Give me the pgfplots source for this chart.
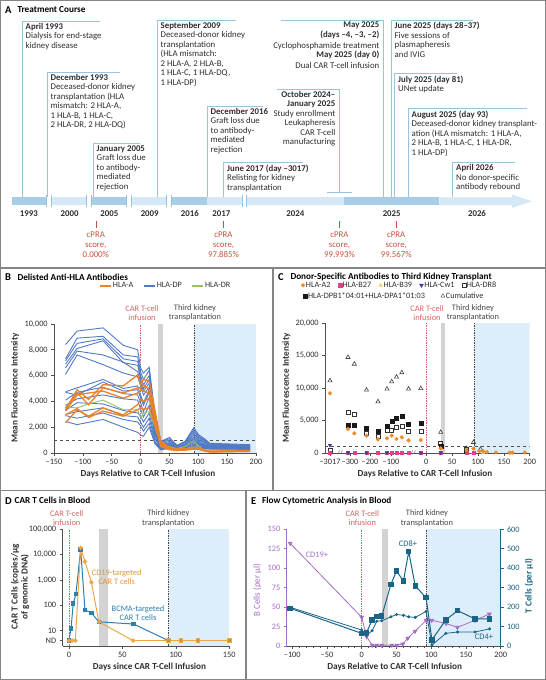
\documentclass[border=0pt]{standalone}
\usepackage{fontspec}
\setmainfont{Carlito}
\usepackage{pgfplots}
\usepackage{pgfplotstable}
\pgfplotsset{compat=1.18}

\definecolor{tlDark}{HTML}{A8CDE7}
\definecolor{tlLight}{HTML}{D5E8F5}
\definecolor{tlLine}{HTML}{98C4E2}
\definecolor{cpra}{HTML}{C8503C}
\definecolor{frame}{HTML}{858585}
\definecolor{axc}{HTML}{505050}
\definecolor{txc}{HTML}{2E2E2E}
\definecolor{shade}{HTML}{DDEEFA}
\definecolor{band}{HTML}{D3D3D3}
\definecolor{redann}{HTML}{D46464}
\definecolor{grayann}{HTML}{474747}
\definecolor{lineB}{HTML}{5079C6}
\definecolor{lineO}{HTML}{E9822B}
\definecolor{lineG}{HTML}{95C35F}
\definecolor{bcma}{HTML}{2A80B3}
\definecolor{cdn}{HTML}{F0A646}
\definecolor{purp}{HTML}{A56DC6}
\definecolor{tealE}{HTML}{1A6585}
\definecolor{mA}{HTML}{E98E2C}
\definecolor{mBa}{HTML}{E0408C}
\definecolor{mBb}{HTML}{F1D27C}
\definecolor{mCw}{HTML}{4B3A8C}

\newcommand{\fA}{\fontsize{8.8}{9.5}\selectfont}
\newcommand{\fT}{\fontsize{8.3}{8.8}\selectfont}
\newcommand{\fL}{\fontsize{8.2}{8.8}\selectfont}
\newcommand{\fN}{\fontsize{8.4}{9.1}\selectfont}
\newcommand{\fX}{\fontsize{9.2}{10}\selectfont\bfseries}

\pgfplotsset{
  panel/.style={scale only axis, anchor=south west,
    axis x line*=bottom, axis y line*=left,
    tick align=outside, major tick length=2.8pt, minor tick length=1.6pt,
    axis line style={draw=axc, line width=0.6pt},
    tick style={draw=axc, line width=0.6pt},
    tick label style={font=\fT, text=txc},
    scaled ticks=false,
    /pgf/number format/assume math mode=true},
}

% Panel B data
\pgfplotstableread{
day B1 B2 B3 B4 B5 B6 B7 B8 B9 B10 B11 B12 B13 B14
-130 8400 7300 7150 6900 6600 6100 4750 4700 4100 3700 3300 3000 2900 2450
-110 9450 8900 8500 8100 7900 7600 5050 4500 4700 4200 3900 3200 2700 2200
-65 9700 9050 8850 8700 7600 6850 5700 5500 5100 4500 3800 3500 3100 2600
-30 8350 7600 7300 7000 7050 6200 5000 4800 4600 4200 3300 2900 2600 2000
-5 8000 7450 7100 6800 6300 5900 5200 4900 4500 4100 3100 2800 2400 1600
0 6600 6300 6000 5700 5500 5200 4500 4300 3900 3400 2900 2400 2100 1400
5 6200 5700 5300 5000 4800 4500 3900 3700 3200 2800 2400 2000 1700 1300
15 6650 6400 6000 5700 5400 5100 4900 4700 4300 3700 3100 2700 2300 2000
25 3000 2800 2500 2300 2100 1900 1700 1600 1500 1300 1100 900 800 700
35 900 850 800 700 650 600 550 500 450 420 380 330 300 250
50 1200 1100 1000 900 800 750 700 650 600 550 500 450 400 350
63 600 550 500 450 400 380 350 330 300 280 250 220 200 180
77 900 850 800 700 650 600 550 500 450 420 380 330 300 250
92 1950 1800 1650 1500 1350 1200 1100 1000 900 800 700 600 500 400
101 1400 1300 1200 1100 1000 900 800 750 700 650 600 500 450 400
111 1100 1000 950 850 800 700 650 600 550 500 450 400 380 350
120 750 700 650 600 550 500 480 450 420 400 380 350 330 300
190 650 600 580 550 500 480 450 420 400 380 350 330 300 280
}\tabB
\pgfplotstableread{
day O1 O2 O3 O4 O5 G
-130 3350 3500 3250 2350 2950 3550
-110 4900 4650 4500 3350 3450 3500
-90 4150 3750 4650 2850 2750 3800
-65 5300 5050 4800 3500 3250 4100
-30 5200 4650 4250 2950 2850 3350
-5 6050 5050 4650 3750 3350 3350
0 5300 5050 4900 4150 3500 2700
5 5700 5300 4800 4000 3400 3100
15 5550 4900 4650 4250 3500 3200
25 3300 3000 2800 2500 2200 2000
35 900 800 700 600 500 700
50 450 400 350 300 250 500
63 300 280 250 220 200 350
77 350 300 280 250 220 500
92 450 400 380 330 300 950
101 400 350 320 300 280 500
111 250 220 200 180 160 200
120 150 120 100 90 80 100
190 200 180 160 150 130 100
}\tabO

\begin{document}
\begin{tikzpicture}[font=\fA,
  evt/.style={anchor=north west, align=left, inner sep=0pt, font=\fA, text=txc},
  evtR/.style={anchor=north east, align=right, inner sep=0pt, font=\fA, text=txc},
  bl/.style={tlLine, line width=0.8pt}]
\path[use as bounding box] (0pt,0pt) rectangle (546pt,680pt);

%================ BACKGROUND / PANEL A ================
\begin{axis}[at={(0pt,0pt)}, anchor=south west, scale only axis, width=546pt, height=680pt,
  xmin=0, xmax=546, ymin=-680, ymax=0, hide axis, clip=false]
% frames
\draw[frame, line width=1.4pt] (0.7,-0.7) rectangle (545.3,-679.3);
\draw[frame, line width=1.2pt] (0,-268) -- (546,-268);
\draw[frame, line width=1.2pt] (273,-268) -- (273,-490.7);
\draw[frame, line width=1.2pt] (0,-490.7) -- (546,-490.7);
\draw[frame, line width=1.2pt] (246,-490.7) -- (246,-680);

% timeline bar
\addplot[fill=tlDark, draw=none] coordinates {(11.5,-197.5) (46.3,-197.5) (46.3,-205) (11.5,-205)};
\addplot[fill=tlLight, draw=none] coordinates {(51.5,-197.5) (86.4,-197.5) (86.4,-205) (51.5,-205)};
\addplot[fill=tlDark, draw=none] coordinates {(91.2,-197.5) (126.4,-197.5) (126.4,-205) (91.2,-205)};
\addplot[fill=tlLight, draw=none] coordinates {(131.3,-197.5) (166.4,-197.5) (166.4,-205) (131.3,-205)};
\addplot[fill=tlDark, draw=none] coordinates {(171.3,-197.5) (207.2,-197.5) (207.2,-205) (171.3,-205)};
\addplot[fill=tlLight, draw=none] coordinates {(207.2,-197.5) (242,-197.5) (242,-205) (207.2,-205)};
\addplot[fill=tlLight, draw=none] coordinates {(246.5,-197.5) (344,-197.5) (344,-205) (246.5,-205)};
\addplot[fill=tlDark, draw=none] coordinates {(344,-197.5) (439.4,-197.5) (439.4,-205) (344,-205)};
\addplot[fill=tlLight, draw=none] coordinates {(439.4,-197.5) (512,-197.5) (512,-194.5) (532,-201.25) (512,-208) (512,-205) (439.4,-205)};
% break marks
\draw[bl] (46.3,-195.5) -- (46.3,-207);
\draw[bl] (51.5,-195.5) -- (51.5,-207);
\draw[bl] (86.4,-195.5) -- (86.4,-207);
\draw[bl] (91.2,-195.5) -- (91.2,-207);
\draw[bl] (126.4,-195.5) -- (126.4,-207);
\draw[bl] (131.3,-195.5) -- (131.3,-207);
\draw[bl] (166.4,-195.5) -- (166.4,-207);
\draw[bl] (171.3,-195.5) -- (171.3,-207);
\draw[bl] (242,-195.5) -- (242,-207);
\draw[bl] (246.5,-195.5) -- (246.5,-207);

% year labels
\begin{scope}[every node/.style={font=\fA\bfseries, text=txc, inner sep=0pt}]
\node at (28.9,-213.7) {1993};
\node at (69.6,-213.7) {2000};
\node at (109.3,-213.7) {2005};
\node at (149.7,-213.7) {2009};
\node at (189.8,-213.7) {2016};
\node at (221.4,-213.7) {2017};
\node at (295.3,-213.7) {2024};
\node at (391.7,-213.7) {2025};
\node at (477,-213.7) {2026};
\end{scope}

% event box lines
\draw[bl] (22,-197.5) -- (22,-21) -- (100,-21);
\draw[bl] (47,-197.5) -- (47,-72) -- (120,-72);
\draw[bl] (93,-197.5) -- (93,-143.3) -- (140,-143.3);
\draw[bl] (157,-197.5) -- (157,-20) -- (236,-20);
\draw[bl] (207,-197.5) -- (207,-106) -- (263,-106);
\draw[bl] (223.5,-197.5) -- (223.5,-162.5) -- (303,-162.5);
\draw[bl] (339,-192) -- (339,-89) -- (277,-89);
\draw[bl] (327,-192) -- (352,-192);
\draw[bl] (383,-197.5) -- (383,-20) -- (281,-20);
\draw[bl] (391,-197.5) -- (391,-20) -- (473,-20);
\draw[bl] (394.5,-197.5) -- (394.5,-73.5) -- (457,-73.5);
\draw[bl] (408,-197.5) -- (408,-108.3) -- (527,-108.3);
\draw[bl] (452.6,-197.5) -- (452.6,-162.2) -- (515,-162.2);

% event texts
\node[evt] at (25.5,-23) {\textbf{April 1993}\\Dialysis for end-stage\\kidney disease};
\node[evt] at (50.5,-74) {\textbf{December 1993}\\Deceased-donor kidney\\transplantation (HLA\\mismatch: 2 HLA-A,\\1 HLA-B, 1 HLA-C,\\2 HLA-DR, 2 HLA-DQ)};
\node[evt] at (96.5,-145.3) {\textbf{January 2005}\\Graft loss due\\to antibody-\\mediated\\rejection};
\node[evt] at (160.5,-22) {\textbf{September 2009}\\Deceased-donor kidney\\transplantation\\(HLA mismatch:\\2 HLA-A, 2 HLA-B,\\1 HLA-C, 1 HLA-DQ,\\1 HLA-DP)};
\node[evt] at (210.5,-108) {\textbf{December 2016}\\Graft loss due\\to antibody-\\mediated\\rejection};
\node[evt] at (227,-164.5) {\textbf{June 2017 (day –3017)}\\Relisting for kidney\\transplantation};
\node[evtR] at (335.5,-91) {\textbf{October 2024–}\\\textbf{January 2025}\\Study enrollment\\Leukapheresis\\CAR T-cell\\manufacturing};
\node[evtR] at (379.5,-22) {\textbf{May 2025}\\\textbf{(days –4, –3, –2)}\\[1.5pt]Cyclophosphamide treatment\\\textbf{May 2025 (day 0)}\\[1.5pt]Dual CAR T-cell infusion};
\node[evt] at (394.5,-22) {\textbf{June 2025 (days 28–37)}\\Five sessions of\\plasmapheresis\\and IVIG};
\node[evt] at (398,-75.5) {\textbf{July 2025 (day 81)}\\UNet update};
\node[evt] at (411.5,-110.3) {\textbf{August 2025 (day 93)}\\Deceased-donor kidney transplant-\\ation (HLA mismatch: 1 HLA-A,\\2 HLA-B, 1 HLA-C, 1 HLA-DR,\\1 HLA-DP)};
\node[evt] at (456,-164.2) {\textbf{April 2026}\\No donor-specific\\antibody rebound};

% cPRA
\begin{scope}[every node/.style={font=\fontsize{8.8}{10}\selectfont, text=cpra, align=center, inner sep=0pt}]
\draw[cpra, line width=0.6pt] (95.8,-221) -- (95.8,-228);
\node at (95.8,-244.6) {cPRA\\score,\\0.000\%};
\draw[cpra, line width=0.6pt] (223.5,-221) -- (223.5,-228);
\node at (223.5,-244.6) {cPRA\\score,\\97.885\%};
\draw[cpra, line width=0.6pt] (339.5,-221) -- (339.5,-228);
\node at (339.5,-244.6) {cPRA\\score,\\99.993\%};
\draw[cpra, line width=0.6pt] (396.2,-221) -- (396.2,-228);
\node at (396.2,-244.6) {cPRA\\score,\\99.567\%};
\end{scope}

% panel titles
\begin{scope}[every node/.style={anchor=west, inner sep=0pt, text=black}]
\node at (5,-10) {\fontsize{10.5}{10}\selectfont\bfseries A};
\node at (17.3,-10) {\fontsize{9.2}{10}\selectfont\bfseries Treatment Course};
\node at (5,-277) {\fontsize{10.5}{10}\selectfont\bfseries B};
\node at (17.3,-277) {\fontsize{9.2}{10}\selectfont\bfseries Delisted Anti-HLA Antibodies};
\node at (278,-277) {\fontsize{10.5}{10}\selectfont\bfseries C};
\node at (290.3,-277) {\fontsize{9.2}{10}\selectfont\bfseries Donor-Specific Antibodies to Third Kidney Transplant};
\node at (5,-500.7) {\fontsize{10.5}{10}\selectfont\bfseries D};
\node at (14.5,-500.7) {\fontsize{9.2}{10}\selectfont\bfseries CAR T Cells in Blood};
\node at (251,-500.7) {\fontsize{10.5}{10}\selectfont\bfseries E};
\node at (262,-500.7) {\fontsize{9.2}{10}\selectfont\bfseries Flow Cytometric Analysis in Blood};
\end{scope}

% annotations above plots
\begin{scope}[every node/.style={align=center, inner sep=0pt, font=\fN}]
\node[text=redann] at (142,-312.8) {CAR T-cell\\infusion};
\node[text=grayann] at (195,-312.8) {Third kidney\\transplantation};
\node[text=redann] at (427,-312.8) {CAR T-cell\\infusion};
\node[text=grayann] at (473,-312.8) {Third kidney\\transplantation};
\node[text=redann] at (66.7,-518.3) {CAR T-cell\\infusion};
\node[text=grayann] at (168.3,-518.3) {Third kidney\\transplantation};
\node[text=redann] at (362.3,-518.3) {CAR T-cell\\infusion};
\node[text=grayann] at (427,-518.3) {Third kidney\\transplantation};
\end{scope}

% axis labels
\begin{scope}[every node/.style={inner sep=0pt, font=\fX, text=txc}]
\node[rotate=90] at (15,-388) {Mean Fluorescence Intensity};
\node at (148,-474.3) {Days Relative to CAR T-Cell Infusion};
\node[rotate=90] at (286.3,-388) {Mean Fluorescence Intensity};
\node at (425,-474.3) {Days Relative to CAR T-Cell Infusion};
\node[rotate=90, align=center, font=\fontsize{9.2}{10}\selectfont\bfseries] at (20,-586.7) {CAR T Cells (copies/μg\\of genomic DNA)};
\node at (149.5,-667.3) {Days since CAR T-Cell Infusion};
\node[rotate=90, text=purp, font=\fontsize{9}{10}\selectfont] at (257.3,-590) {B Cells (per μl)};
\node[rotate=90, text=tealE] at (529,-586) {T Cells (per μl)};
\node at (394.7,-666.7) {Days Relative to CAR T-Cell Infusion};
\end{scope}
\end{axis}

%================ PANEL B ================
\begin{axis}[panel, at={(54pt,227pt)}, width=202pt, height=129pt,
  xmin=-150, xmax=200, ymin=0, ymax=10000,
  xtick={-150,-100,-50,0,50,100,150,200},
  xticklabels={–150,–100,–50,0,50,100,150,200},
  ytick={0,2000,4000,6000,8000,10000},
  yticklabels={0,{2,000},{4,000},{6,000},{8,000},{10,000}},
  legend columns=3,
  legend style={at={(0.552,1.295)}, anchor=center, draw=none, fill=none, font=\fL,
    nodes={inner sep=1pt, text=txc},
    /tikz/every even column/.append style={column sep=9pt}},
  legend image code/.code={\draw[#1] (0pt,0pt) -- (11pt,0pt);}]
\addlegendimage{lineO, line width=1.3pt}\addlegendentry{HLA-A}
\addlegendimage{lineB, line width=1.3pt}\addlegendentry{HLA-DP}
\addlegendimage{lineG, line width=1.3pt}\addlegendentry{HLA-DR}
\addplot[fill=shade, draw=none, forget plot] coordinates {(93,0) (200,0) (200,10000) (93,10000)};
\addplot[fill=band, draw=none, forget plot] coordinates {(30,0) (38,0) (38,10000) (30,10000)};
\addplot[redann, densely dotted, line width=0.7pt, forget plot] coordinates {(0,0) (0,10000)};
\addplot[grayann, densely dotted, line width=0.7pt, forget plot] coordinates {(93,0) (93,10000)};
\addplot[axc, dashed, line width=0.5pt, forget plot] coordinates {(-150,1000) (200,1000)};
\pgfplotsinvokeforeach{B1,B2,B3,B4,B5,B6,B7,B8,B9,B10,B11,B12,B13,B14}{
  \addplot[lineB, line width=0.9pt, forget plot] table[x=day, y=#1] {\tabB};
}
\addplot[lineG, line width=0.9pt, forget plot] table[x=day, y=G] {\tabO};
\pgfplotsinvokeforeach{O1,O2,O3,O4,O5}{
  \addplot[lineO, line width=1.3pt, forget plot] table[x=day, y=#1] {\tabO};
}
\end{axis}

%================ PANEL C ================
\begin{axis}[panel, at={(325pt,227pt)}, width=204.7pt, height=129.7pt,
  xmin=325, xmax=529.7, ymin=0, ymax=20000,
  xtick={330,350,370,391,426.3,452.2,478,503.9,529.7},
  xticklabels={–3017,–300,–200,–100,0,50,100,150,200},
  ytick={0,5000,10000,15000,20000},
  yticklabels={0,{5,000},{10,000},{15,000},{20,000}},
  legend columns=5,
  legend style={at={(-0.132,1.293)}, anchor=west, draw=none, fill=none, font=\fL,
    nodes={inner sep=1pt, text=txc},
    /tikz/every even column/.append style={column sep=6.5pt}},
  legend image code/.code={\draw[mark repeat=2,mark phase=2,#1] plot coordinates {(0pt,0pt) (2.6pt,0pt) (5.2pt,0pt)};}]
\addlegendimage{only marks, mark=*, mark size=1.9pt, draw=mA, fill=mA}\addlegendentry{HLA-A2}
\addlegendimage{only marks, mark=square*, mark size=1.8pt, draw=mBa, fill=mBa}\addlegendentry{HLA-B27}
\addlegendimage{only marks, mark=triangle*, mark size=2.2pt, draw=mBb, fill=mBb}\addlegendentry{HLA-B39}
\addlegendimage{only marks, mark=triangle*, mark size=2.2pt, draw=mCw, fill=mCw, mark options={rotate=180}}\addlegendentry{HLA-Cw1}
\addlegendimage{only marks, mark=square, mark size=1.9pt, draw=black!80, mark options={fill=white}}\addlegendentry{HLA-DR8}
\addplot[fill=shade, draw=none, forget plot] coordinates {(474.4,0) (529.7,0) (529.7,20000) (474.4,20000)};
\addplot[fill=band, draw=none, forget plot] coordinates {(440.8,0) (445.4,0) (445.4,20000) (440.8,20000)};
\addplot[redann, densely dotted, line width=0.7pt, forget plot] coordinates {(426.3,0) (426.3,20000)};
\addplot[grayann, densely dotted, line width=0.7pt, forget plot] coordinates {(474.4,0) (474.4,20000)};
\addplot[axc, dashed, line width=0.5pt, forget plot] coordinates {(325,1000) (529.7,1000)};
% Cumulative
\addplot[only marks, mark=triangle, mark size=2.4pt, draw=black!75, mark options={fill=white, line width=0.6pt}, forget plot] coordinates {
(330,11160) (348,14760) (354.3,13720) (366.5,9720) (378,7920) (387,9880) (391.7,11000) (396.5,11730) (401.8,12400) (408.5,9880) (420.8,9960) (440.7,3200) (466.5,720) (473.5,1650) (480.5,600)};
% HLA-DR8
\addplot[only marks, mark=square, mark size=2pt, draw=black!80, mark options={fill=white, line width=0.6pt}, forget plot] coordinates {
(330,350) (348,6280) (354.3,6020) (366.5,3090) (378,2570) (387,3450) (391.7,3500) (396.5,3960) (401.8,4110) (408.5,3340) (420.8,3340) (440.7,1540) (466.5,500)};
% HLA-DPB1
\addplot[only marks, mark=square*, mark size=2pt, draw=black!90, fill=black!90, forget plot] coordinates {
(348,4330) (354.3,4270) (366.5,3750) (378,3290) (387,4060) (391.7,4830) (396.5,5440) (401.8,5700) (408.5,4420) (420.8,4520) (440.7,1070) (466.5,350)};
% HLA-B39
\addplot[only marks, mark=triangle*, mark size=2pt, draw=mBb, fill=mBb, forget plot] coordinates {
(330,20) (348,30) (366.5,30) (387,40) (401.8,30) (440.7,20) (473.5,30) (483.3,20)};
% HLA-B27
\addplot[only marks, mark=square*, mark size=1.6pt, draw=mBa, fill=mBa, forget plot] coordinates {
(330,50) (348,100) (354.3,80) (366.5,80) (378,60) (387,80) (391.7,70) (396.5,90) (401.8,70) (408.5,80) (420.8,60) (440.7,50) (466.5,30) (473.5,40)};
% HLA-Cw1
\addplot[only marks, mark=triangle*, mark size=2pt, draw=mCw, fill=mCw, mark options={rotate=180}, forget plot] coordinates {
(330,1200) (348,40) (366.5,30) (387,30) (420.8,30) (440.7,20)};
% HLA-A2
\addplot[only marks, mark=*, mark size=1.9pt, draw=mA, fill=mA, forget plot] coordinates {
(330,9200) (348,3700) (354.3,3030) (366.5,2670) (378,2100) (387,2260) (391.7,2670) (396.5,2160) (401.8,2420) (408.5,1950) (420.8,2000) (440.7,720) (466.5,460) (473.5,700) (479.3,300) (483.3,250) (487,150) (496,80) (509.7,50) (512.3,50) (524.7,80)};
% axis break marks
\node[fill=white, inner sep=0.3pt, font=\fontsize{7}{7}\selectfont, text=axc] at (axis cs:340,0) {//};
\node[fill=white, inner sep=0.3pt, font=\fontsize{7}{7}\selectfont, text=axc] at (axis cs:413,0) {//};
\end{axis}

% Panel C legend, second row
\begin{axis}[at={(325pt,227pt)}, anchor=south west, scale only axis, width=204.7pt, height=129.7pt,
  xmin=0, xmax=1, ymin=0, ymax=1, hide axis,
  legend columns=2,
  legend style={at={(-0.122,1.2105)}, anchor=west, draw=none, fill=none, font=\fL,
    nodes={inner sep=1pt, text=txc},
    /tikz/every even column/.append style={column sep=15pt}},
  legend image code/.code={\draw[mark repeat=2,mark phase=2,#1] plot coordinates {(0pt,0pt) (2.6pt,0pt) (5.2pt,0pt)};}]
\addplot[draw=none, forget plot] coordinates {(0.5,0.5)};
\addlegendimage{only marks, mark=square*, mark size=1.9pt, draw=black!90, fill=black!90}\addlegendentry{HLA-DPB1*04:01+HLA-DPA1*01:03}
\addlegendimage{only marks, mark=triangle, mark size=2.3pt, draw=black!75, mark options={fill=white}}\addlegendentry{Cumulative}
\end{axis}

%================ PANEL D ================
\begin{axis}[panel, ymode=log, at={(62.5pt,34pt)}, width=166.8pt, height=116.7pt,
  xmin=-6, xmax=150, ymin=2.44, ymax=100000,
  xtick={0,50,100,150},
  ytick={4,10,100,1000,10000,100000},
  yticklabels={ND,10,100,{1,000},{10,000},{100,000}},
  yminorticks=false]
\addplot[fill=shade, draw=none] coordinates {(93,2.44) (150,2.44) (150,100000) (93,100000)};
\addplot[fill=band, draw=none] coordinates {(28,2.44) (37,2.44) (37,100000) (28,100000)};
\addplot[redann, densely dotted, line width=0.7pt] coordinates {(0,2.44) (0,100000)};
\addplot[grayann, densely dotted, line width=0.7pt] coordinates {(93,2.44) (93,100000)};
% BCMA
\addplot[bcma, line width=1pt, mark=square*, mark size=1.7pt, mark options={fill=bcma}] coordinates {
(0,4) (2,12) (4,115) (6.5,270) (11,16000) (15,65) (21,50) (28,22) (60.5,18) (93,4)};
% CD19
\addplot[cdn, line width=1pt, mark=*, mark size=1.7pt, mark options={fill=cdn}] coordinates {
(0,4) (3,4) (6,4) (11,18500) (15,5300) (21,800) (28,22) (60,4)};
\addplot[cdn, line width=1pt, mark=square*, mark size=1.7pt, mark options={fill=cdn!85!black}, mark indices={2,3,4,5}] coordinates {
(60,4) (93,4) (105,4) (121,4) (150,4)};
\node[text=cdn!90!black, align=center, font=\fN] at (axis cs:44.6,1320) {CD19-targeted\\CAR T cells};
\node[text=bcma, align=center, font=\fN] at (axis cs:64.6,49) {BCMA-targeted\\CAR T cells};
\end{axis}

%================ PANEL E ================
% x axis and backgrounds
\begin{axis}[panel, at={(286.7pt,34pt)}, width=214pt, height=116.7pt,
  xmin=-108, xmax=200, ymin=0, ymax=150, axis y line=none,
  xtick={-100,-50,0,50,100,150,200},
  xticklabels={–100,–50,0,50,100,150,200},
  minor xtick={-90,-80,-70,-60,-40,-30,-20,-10,10,20,30,40,60,70,80,90,110,120,130,140,160,170,180,190}]
\addplot[fill=shade, draw=none] coordinates {(93,0) (200,0) (200,150) (93,150)};
\addplot[fill=band, draw=none] coordinates {(29,0) (38,0) (38,150) (29,150)};
\addplot[redann, densely dotted, line width=0.7pt] coordinates {(0,0) (0,150)};
\addplot[grayann, densely dotted, line width=0.7pt] coordinates {(93,0) (93,150)};
\end{axis}
% left axis: B cells
\begin{axis}[panel, at={(286.7pt,34pt)}, width=214pt, height=116.7pt,
  xmin=-108, xmax=200, ymin=0, ymax=150, axis x line=none,
  ytick={0,25,50,75,100,125,150},
  axis line style={draw=purp}, tick style={draw=purp}, tick label style={text=purp}]
\addplot[purp, line width=0.8pt, mark=triangle*, mark size=2.1pt, mark options={rotate=180, fill=purp}] coordinates {
(-103,132) (0,36.9) (7,12) (15,1) (21.6,1) (28.8,1) (43.2,1) (50.4,1) (59,2.6) (66.2,10) (76.7,19) (92.6,33) (100.7,33) (121.3,29) (137.6,24) (163,33) (183.7,41)};
\node[text=purp, font=\fN] at (axis cs:-64.7,117) {CD19+};
\end{axis}
% right axis: T cells
\begin{axis}[panel, at={(286.7pt,34pt)}, width=214pt, height=116.7pt,
  xmin=-108, xmax=200, ymin=0, ymax=600, axis x line=none, axis y line*=right,
  ytick={0,100,200,300,400,500,600},
  axis line style={draw=tealE}, tick style={draw=tealE}, tick label style={text=tealE}]
\addplot[tealE, line width=0.8pt, mark=*, mark size=1.1pt, mark options={fill=tealE}] coordinates {
(-103,199) (0,82) (7,55) (15,79) (21.6,127) (28.8,130) (42,150) (50,162) (60,158) (67.6,150) (77,147) (92.6,178) (101,5) (121,65) (138,72) (163,72) (184,88)};
\addplot[tealE, line width=1pt, mark=square*, mark size=2.2pt, mark options={fill=tealE}] coordinates {
(-103,194) (0,65) (7,70) (15,134) (21.6,151) (28.8,154) (42,317) (50,386) (60,334) (67.6,485) (77,309) (92.6,249) (101,31) (121,134) (138,182) (163,139) (184,139)};
\node[text=tealE, font=\fN] at (axis cs:66.6,528) {CD8+};
\node[text=tealE, font=\fN] at (axis cs:176,48) {CD4+};
\end{axis}
\end{tikzpicture}
\end{document}
